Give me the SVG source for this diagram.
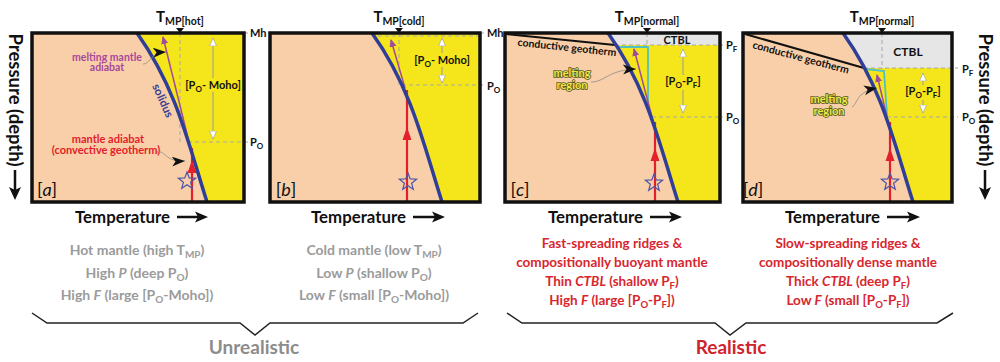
<svg xmlns="http://www.w3.org/2000/svg" width="1000" height="362" viewBox="0 0 1000 362">
<defs>
<style>
.f{font-family:Lato,'Liberation Sans',sans-serif;font-weight:bold}
.frame{fill:none;stroke:#111;stroke-width:3.5}
.peach{fill:#F9CFA9}
.yel{fill:#F5E51B}
.ctbl{fill:#E6E6E6}
.sol{fill:none;stroke:#2F3E96;stroke-width:3.5}
.dash{stroke:#A8A8A8;stroke-width:1;stroke-dasharray:4 3;fill:none}
.red{stroke:#E3202A;stroke-width:2.2;fill:none}
.redh{fill:#E3202A}
.pur{stroke:#A04C9A;stroke-width:1.5;fill:none;marker-end:url(#ph)}
.star{fill:none;stroke:#4A55A8;stroke-width:1.2}
.wa{stroke:#9A9A9A;stroke-width:1;marker-start:url(#wh);marker-end:url(#wh)}
.lead{fill:none;stroke:#8A8A8A;stroke-width:0.8;marker-end:url(#dart)}
.cyan{fill:none;stroke:#4FC0C4;stroke-width:1.8}
.geo{stroke:#111;stroke-width:2}
.lbl{font-size:11px;fill:#111}
.mr{font-size:11px;fill:#EDE94A;stroke:#55551A;stroke-width:1.6;paint-order:stroke;text-anchor:middle}
.gt{font-size:14px;fill:#9B9B9B;text-anchor:middle}
.rt{font-size:13.5px;fill:#D8262E;text-anchor:middle}
.tmp{font-size:15px;fill:#111;text-anchor:middle}
.ax{font-size:17px;fill:#111}
.brace{fill:none;stroke:#222;stroke-width:1.5}
.pl{font-family:Lato,'Liberation Sans',sans-serif;font-size:18px;fill:#111}
</style>
<path id="solc" d="M0,33 C40,89 52,146 70,202"/>
<polygon id="star" points="0,-9 2.23,-3.07 8.56,-2.78 3.61,1.17 5.29,7.28 0,3.8 -5.29,7.28 -3.61,1.17 -8.56,-2.78 -2.23,-3.07"/>
<marker id="ph" markerUnits="userSpaceOnUse" markerWidth="8" markerHeight="7" refX="7" refY="3.5" orient="auto"><path d="M0,0 L8,3.5 L0,7 Z" fill="#A04C9A"/></marker>
<marker id="wh" markerUnits="userSpaceOnUse" markerWidth="9" markerHeight="9" refX="8" refY="4" orient="auto-start-reverse"><path d="M0,0.5 L8,4 L0,7.5 Z" fill="#fff" stroke="#999" stroke-width="0.6"/></marker>
<marker id="dart" markerUnits="userSpaceOnUse" markerWidth="14" markerHeight="11" refX="13" refY="5" orient="auto"><path d="M0,0 L13,5 L0,10 L3.5,5 Z" fill="#111"/></marker>
</defs>
<rect width="1000" height="362" fill="#fff"/>

<!-- Panel a -->
<g id="panel-a">
<rect class="peach" x="32" y="33" width="212" height="169"/>
<path class="yel" transform="translate(137,0)" d="M0,33 C40,89 52,146 70,202 L107,202 L107,33 Z"/>
<line class="dash" x1="180" y1="33" x2="180" y2="142"/>
<line class="dash" x1="188" y1="142" x2="249" y2="142"/>
<line class="dash" x1="244" y1="33" x2="249" y2="33" stroke="#333"/>
<line class="wa" x1="213" y1="38" x2="213" y2="139"/>
<rect x="186" y="78" width="54" height="14" fill="#F5E51B"/>
<text class="f lbl" x="213" y="89" text-anchor="middle">[P<tspan font-size="8" dy="3">O</tspan><tspan dy="-3">- Moho]</tspan></text>
<line class="pur" x1="189" y1="142" x2="163" y2="37"/>
<line class="red" x1="192" y1="202" x2="192" y2="148"/>
<polygon class="redh" points="192,160 196.5,173 187.5,173"/>
<use href="#star" class="star" x="187" y="181"/>
<use href="#solc" class="sol" x="137"/>
<text class="f" x="162" y="104" font-size="11.5" fill="#3A3F96" text-anchor="middle" transform="rotate(66 162 101)">solidus</text>
<text class="f" x="107" y="61" font-size="10.5" fill="#A8489C" text-anchor="middle">melting mantle</text>
<text class="f" x="107" y="71" font-size="10.5" fill="#A8489C" text-anchor="middle">adiabat</text>
<text class="f" x="108" y="143" font-size="11" fill="#E3202A" text-anchor="middle">mantle adiabat</text>
<text class="f" x="106" y="154" font-size="11" fill="#E3202A" text-anchor="middle">(convective geotherm)</text>
<rect class="frame" x="32" y="33" width="212" height="169"/>
<text class="f tmp" x="180" y="22">T<tspan font-size="10.5" dy="3">MP[hot]</tspan></text>
<polygon points="176,28 184,28 180,33" fill="#111"/>
<text class="f lbl" x="250" y="37">Mh</text>
<text class="f lbl" x="250" y="146">P<tspan font-size="8" dy="3">O</tspan></text>
<text class="pl" x="47" y="196" text-anchor="middle">[<tspan font-style="italic">a</tspan>]</text>
</g>

<!-- Panel b -->
<g id="panel-b">
<rect class="peach" x="270" y="33" width="210" height="169"/>
<path class="yel" transform="translate(372,0)" d="M0,33 C40,89 52,146 70,202 L108,202 L108,33 Z"/>
<line class="dash" x1="378" y1="36" x2="480" y2="36"/>
<line class="dash" x1="399" y1="33" x2="399" y2="85"/>
<line class="dash" x1="402" y1="85" x2="485" y2="85"/>
<line class="dash" x1="480" y1="33" x2="485" y2="33" stroke="#333"/>
<line class="wa" x1="442" y1="38" x2="442" y2="83"/>
<rect x="415" y="53" width="54" height="14" fill="#F5E51B"/>
<text class="f lbl" x="442" y="64" text-anchor="middle">[P<tspan font-size="8" dy="3">O</tspan><tspan dy="-3">- Moho]</tspan></text>
<line class="pur" x1="405" y1="88" x2="391" y2="40"/>
<line class="red" x1="407" y1="202" x2="407" y2="90"/>
<polygon class="redh" points="407,127 411.5,140 402.5,140"/>
<use href="#star" class="star" x="408" y="182"/>
<use href="#solc" class="sol" x="372"/>
<rect class="frame" x="270" y="33" width="210" height="169"/>
<text class="f tmp" x="399" y="22">T<tspan font-size="10.5" dy="3">MP[cold]</tspan></text>
<polygon points="395,28 403,28 399,33" fill="#111"/>
<text class="f lbl" x="487" y="37">Mh</text>
<text class="f lbl" x="487" y="90">P<tspan font-size="8" dy="3">O</tspan></text>
<text class="pl" x="286" y="196" text-anchor="middle">[<tspan font-style="italic">b</tspan>]</text>
</g>

<!-- Panel c -->
<g id="panel-c">
<rect class="peach" x="505" y="33" width="215" height="169"/>
<path class="yel" transform="translate(608,0)" d="M0,33 C40,89 52,146 70,202 L112,202 L112,33 Z"/>
<polygon class="ctbl" points="608,33 720,33 720,45 615,45"/>
<line class="dash" x1="647" y1="33" x2="647" y2="46"/>
<line class="dash" x1="615" y1="45" x2="723" y2="45"/>
<line class="dash" x1="652" y1="117" x2="723" y2="117"/>
<polyline class="cyan" points="617,47 648,47 648,106 652,117"/>
<line class="geo" x1="506" y1="34" x2="615" y2="45"/>
<text class="f" x="567" y="51" font-size="10.5" fill="#111" text-anchor="middle" transform="rotate(6 567 47)">conductive geotherm</text>
<line class="wa" x1="683" y1="49" x2="683" y2="113"/>
<rect x="660" y="75" width="46" height="15" fill="#F5E51B"/>
<text class="f lbl" x="683" y="85" text-anchor="middle">[P<tspan font-size="8" dy="3">O</tspan><tspan dy="-3">-P</tspan><tspan font-size="8" dy="3">F</tspan><tspan dy="-3">]</tspan></text>
<text class="f" x="677" y="44" font-size="11" fill="#111" text-anchor="middle">CTBL</text>
<line class="pur" x1="652" y1="117" x2="634" y2="49"/>
<line class="red" x1="655" y1="202" x2="655" y2="122"/>
<polygon class="redh" points="655,148 659.5,161 650.5,161"/>
<use href="#star" class="star" x="654" y="183"/>
<use href="#solc" class="sol" x="608"/>
<text class="f mr" x="572" y="77">melting</text>
<text class="f mr" x="572" y="89">region</text>
<rect class="frame" x="505" y="33" width="215" height="169"/>
<text class="f tmp" x="647" y="22">T<tspan font-size="10.5" dy="3">MP[normal]</tspan></text>
<polygon points="643,28 651,28 647,33" fill="#111"/>
<text class="f lbl" x="726" y="49">P<tspan font-size="8" dy="3">F</tspan></text>
<text class="f lbl" x="726" y="121">P<tspan font-size="8" dy="3">O</tspan></text>
<text class="pl" x="520" y="196" text-anchor="middle">[<tspan font-style="italic">c</tspan>]</text>
</g>

<!-- Panel d -->
<g id="panel-d">
<rect class="peach" x="743" y="33" width="209" height="169"/>
<path class="yel" transform="translate(843,0)" d="M0,33 C40,89 52,146 70,202 L109,202 L109,33 Z"/>
<polygon class="ctbl" points="843,33 952,33 952,68 864,68 858,57 850,45"/>
<line class="dash" x1="882" y1="33" x2="882" y2="69"/>
<line class="dash" x1="864" y1="68" x2="958" y2="68"/>
<line class="dash" x1="887" y1="117" x2="958" y2="117"/>
<polyline class="cyan" points="866,69 884,71 887,115"/>
<line class="geo" x1="745" y1="34" x2="864" y2="68"/>
<text class="f" x="801" y="61" font-size="10.5" fill="#111" text-anchor="middle" transform="rotate(15 801 57)">conductive geotherm</text>
<line class="wa" x1="923" y1="73" x2="923" y2="113"/>
<rect x="900" y="85" width="46" height="15" fill="#F5E51B"/>
<text class="f lbl" x="923" y="95" text-anchor="middle">[P<tspan font-size="8" dy="3">O</tspan><tspan dy="-3">-P</tspan><tspan font-size="8" dy="3">F</tspan><tspan dy="-3">]</tspan></text>
<text class="f" x="908" y="56" font-size="12" fill="#111" text-anchor="middle">CTBL</text>
<line class="pur" x1="887" y1="117" x2="877" y2="75"/>
<line class="red" x1="890" y1="202" x2="890" y2="122"/>
<polygon class="redh" points="890,148 894.5,161 885.5,161"/>
<use href="#star" class="star" x="890" y="182"/>
<use href="#solc" class="sol" x="843"/>
<text class="f mr" x="829" y="103">melting</text>
<text class="f mr" x="829" y="115">region</text>
<rect class="frame" x="743" y="33" width="209" height="169"/>
<text class="f tmp" x="882" y="22">T<tspan font-size="10.5" dy="3">MP[normal]</tspan></text>
<polygon points="878,28 886,28 882,33" fill="#111"/>
<text class="f lbl" x="962" y="73">P<tspan font-size="8" dy="3">F</tspan></text>
<text class="f lbl" x="962" y="121">P<tspan font-size="8" dy="3">O</tspan></text>
<text class="pl" x="753" y="196" text-anchor="middle">[<tspan font-style="italic">d</tspan>]</text>
</g>

<!-- Connectors (leader arrows) -->
<g id="connectors">
<path class="lead" d="M143,64 C151,64 149,53 166,52"/>
<path class="lead" d="M157,152 C166,150 164,162 185,161"/>
<path class="lead" d="M591,82 C605,82 608,70 636,69"/>
<path class="lead" d="M852,107 C858,104 855,92 877,88"/>
</g>

<!-- Axes -->
<g id="axes">
<text class="f" x="15" y="100" font-size="18.5" fill="#111" text-anchor="middle" transform="rotate(90 15 100)" dy="6">Pressure (depth)</text>
<line x1="15" y1="170" x2="15" y2="190" stroke="#111" stroke-width="2.5"/>
<polygon points="9,187 15,200 21,187 15,190" fill="#111"/>
<text class="f" x="985" y="100" font-size="18.5" fill="#111" text-anchor="middle" transform="rotate(90 985 100)" dy="6">Pressure (depth)</text>
<line x1="985" y1="170" x2="985" y2="190" stroke="#111" stroke-width="2.5"/>
<polygon points="979,187 985,200 991,187 985,190" fill="#111"/>
<text class="f ax" x="75" y="223" textLength="95" lengthAdjust="spacingAndGlyphs">Temperature</text>
<line x1="177" y1="217" x2="198" y2="217" stroke="#111" stroke-width="2.5"/>
<polygon points="195,211.5 208,217 195,222.5 198,217" fill="#111"/>
<text class="f ax" x="311" y="223" textLength="95" lengthAdjust="spacingAndGlyphs">Temperature</text>
<line x1="413" y1="217" x2="435" y2="217" stroke="#111" stroke-width="2.5"/>
<polygon points="432,211.5 445,217 432,222.5 435,217" fill="#111"/>
<text class="f ax" x="548" y="223" textLength="95" lengthAdjust="spacingAndGlyphs">Temperature</text>
<line x1="650" y1="217" x2="672" y2="217" stroke="#111" stroke-width="2.5"/>
<polygon points="669,211.5 682,217 669,222.5 672,217" fill="#111"/>
<text class="f ax" x="785" y="223" textLength="95" lengthAdjust="spacingAndGlyphs">Temperature</text>
<line x1="887" y1="217" x2="910" y2="217" stroke="#111" stroke-width="2.5"/>
<polygon points="907,211.5 920,217 907,222.5 910,217" fill="#111"/>
</g>

<!-- Captions -->
<g id="caption-a">
<text class="f gt" x="137" y="255">Hot mantle (high T<tspan font-size="10" dy="3">MP</tspan><tspan dy="-3">)</tspan></text>
<text class="f gt" x="137" y="278">High <tspan font-style="italic">P</tspan> (deep P<tspan font-size="10" dy="3">O</tspan><tspan dy="-3">)</tspan></text>
<text class="f gt" x="137" y="300">High <tspan font-style="italic">F</tspan> (large [P<tspan font-size="10" dy="3">O</tspan><tspan dy="-3">-Moho])</tspan></text>
</g>
<g id="caption-b">
<text class="f gt" x="374" y="255">Cold mantle (low T<tspan font-size="10" dy="3">MP</tspan><tspan dy="-3">)</tspan></text>
<text class="f gt" x="374" y="278">Low <tspan font-style="italic">P</tspan> (shallow P<tspan font-size="10" dy="3">O</tspan><tspan dy="-3">)</tspan></text>
<text class="f gt" x="374" y="300">Low <tspan font-style="italic">F</tspan> (small [P<tspan font-size="10" dy="3">O</tspan><tspan dy="-3">-Moho])</tspan></text>
</g>
<g id="caption-c">
<text class="f rt" x="612" y="248">Fast-spreading ridges &amp;</text>
<text class="f rt" x="612" y="267">compositionally buoyant mantle</text>
<text class="f rt" x="612" y="286">Thin <tspan font-style="italic">CTBL</tspan> (shallow P<tspan font-size="9.5" dy="3">F</tspan><tspan dy="-3">)</tspan></text>
<text class="f rt" x="612" y="305">High <tspan font-style="italic">F</tspan> (large [P<tspan font-size="9.5" dy="3">O</tspan><tspan dy="-3">-P</tspan><tspan font-size="9.5" dy="3">F</tspan><tspan dy="-3">])</tspan></text>
</g>
<g id="caption-d">
<text class="f rt" x="848" y="248">Slow-spreading ridges &amp;</text>
<text class="f rt" x="848" y="267">compositionally dense mantle</text>
<text class="f rt" x="848" y="286">Thick <tspan font-style="italic">CTBL</tspan> (deep P<tspan font-size="9.5" dy="3">F</tspan><tspan dy="-3">)</tspan></text>
<text class="f rt" x="848" y="305">Low <tspan font-style="italic">F</tspan> (small [P<tspan font-size="9.5" dy="3">O</tspan><tspan dy="-3">-P</tspan><tspan font-size="9.5" dy="3">F</tspan><tspan dy="-3">])</tspan></text>
</g>
<g id="group-unrealistic">
<path class="brace" d="M32,313 L47,323 L240,323 L255,335 L270,323 L463,323 L478,313"/>
<text class="f" x="254" y="354" font-size="19" fill="#8C8C8C" text-anchor="middle">Unrealistic</text>
</g>
<g id="group-realistic">
<path class="brace" d="M507,313 L522,323 L715,323 L730,335 L746,323 L937,323 L953,313"/>
<text class="f" x="731" y="354" font-size="19" fill="#D0222C" text-anchor="middle">Realistic</text>
</g>
</svg>
